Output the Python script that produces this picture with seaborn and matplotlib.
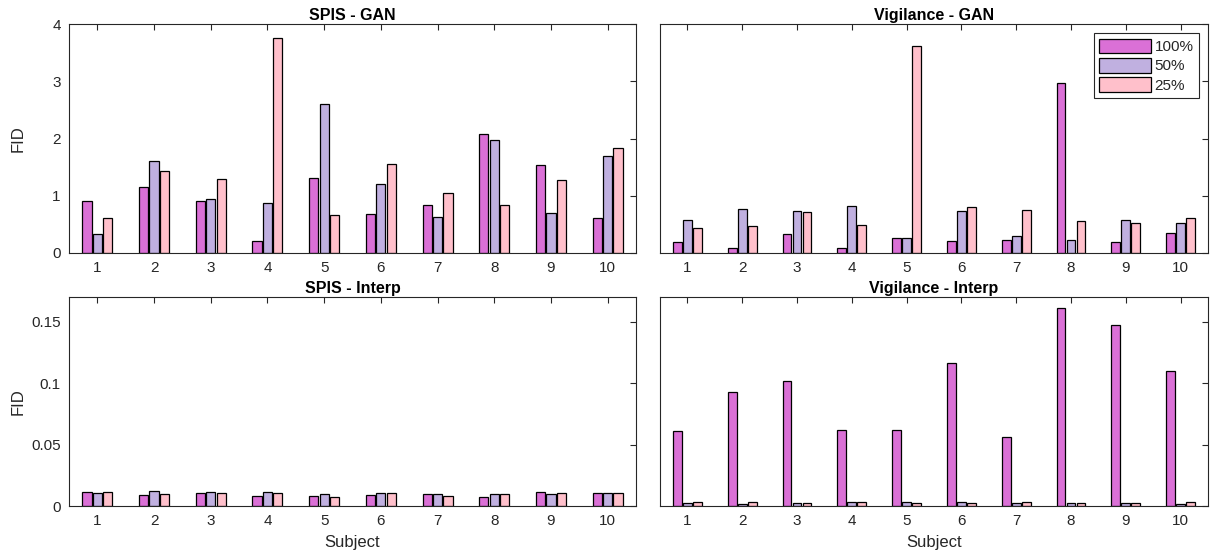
import numpy as np
import pandas as pd
import matplotlib
matplotlib.use("Agg")
import matplotlib.pyplot as plt
import seaborn as sns
from matplotlib.patches import Patch

# Data
subjects = [str(i) for i in range(1, 11)]
levels = ['100%', '50%', '25%']
colors = ['#DA70D6', '#C0B0E0', '#FFC0CB']

spis_gan_100 = [0.90, 1.16, 0.91, 0.21, 1.31, 0.68, 0.84, 2.08, 1.53, 0.61]
spis_gan_50 = [0.33, 1.61, 0.94, 0.87, 2.61, 1.20, 0.63, 1.98, 0.70, 1.69]
spis_gan_25 = [0.61, 1.43, 1.30, 3.75, 0.66, 1.55, 1.04, 0.84, 1.28, 1.83]

vig_gan_100 = [0.19, 0.09, 0.33, 0.09, 0.26, 0.21, 0.23, 2.97, 0.20, 0.35]
vig_gan_50 = [0.58, 0.76, 0.74, 0.82, 0.26, 0.73, 0.29, 0.23, 0.58, 0.52]
vig_gan_25 = [0.44, 0.47, 0.71, 0.49, 3.61, 0.80, 0.75, 0.56, 0.53, 0.61]

spis_int_100 = [0.0114, 0.0090, 0.0103, 0.0079, 0.0084, 0.0092, 0.0095, 0.0070, 0.0110, 0.0103]
spis_int_50 = [0.0106, 0.0125, 0.0111, 0.0114, 0.0100, 0.0109, 0.0095, 0.0095, 0.0100, 0.0103]
spis_int_25 = [0.0111, 0.0098, 0.0106, 0.0106, 0.0073, 0.0103, 0.0078, 0.0095, 0.0103, 0.0105]

vig_int_100 = [0.061, 0.093, 0.102, 0.062, 0.062, 0.116, 0.056, 0.161, 0.147, 0.110]
vig_int_50 = [0.0024, 0.0019, 0.0024, 0.0033, 0.0030, 0.0030, 0.0022, 0.0024, 0.0024, 0.0019]
vig_int_25 = [0.0035, 0.0030, 0.0022, 0.0033, 0.0022, 0.0022, 0.0030, 0.0024, 0.0022, 0.0030]


def to_long(a, b, c):
    rows = []
    for lvl, vals in zip(levels, [a, b, c]):
        for s, v in zip(subjects, vals):
            rows.append({'Subject': s, 'Level': lvl, 'FID': v})
    return pd.DataFrame(rows)


panels = [
    ('SPIS - GAN', to_long(spis_gan_100, spis_gan_50, spis_gan_25)),
    ('Vigilance - GAN', to_long(vig_gan_100, vig_gan_50, vig_gan_25)),
    ('SPIS - Interp', to_long(spis_int_100, spis_int_50, spis_int_25)),
    ('Vigilance - Interp', to_long(vig_int_100, vig_int_50, vig_int_25)),
]

sns.set_style('white')
plt.rcParams['font.family'] = ['Liberation Sans', 'DejaVu Sans']

fig = plt.figure(figsize=(12.17, 5.54), dpi=100)
W, H = 1217, 554
rects = [
    (69, 24, 567, 229),
    (660, 24, 548, 229),
    (69, 297, 567, 209),
    (660, 297, 548, 209),
]
spine_c = '#262626'

for i, ((title, df), (x0, y0, w, h)) in enumerate(zip(panels, rects)):
    ax = fig.add_axes([x0 / W, 1 - (y0 + h) / H, w / W, h / H])
    sns.barplot(data=df, x='Subject', y='FID', hue='Level', order=subjects,
                hue_order=levels, palette=colors, saturation=1, width=0.55,
                gap=0.12, errorbar=None, edgecolor='black', linewidth=0.9,
                legend=False, ax=ax)
    ax.set_xlim(-0.5, 9.5)
    if i < 2:
        ax.set_ylim(0, 4)
        ax.set_yticks([0, 1, 2, 3, 4])
        ax.set_yticklabels(['0', '1', '2', '3', '4'])
    else:
        ax.set_ylim(0, 0.17)
        ax.set_yticks([0, 0.05, 0.1, 0.15])
        ax.set_yticklabels(['0', '0.05', '0.1', '0.15'])
    ax.set_xticks(range(10))
    ax.set_xticklabels(subjects)
    ax.tick_params(direction='in', top=True, right=True, length=4, width=0.8,
                   color=spine_c, labelsize=11, labelcolor=spine_c, pad=6)
    if i % 2 == 1:
        ax.set_yticklabels([])
    for sp in ax.spines.values():
        sp.set_color(spine_c)
        sp.set_linewidth(0.8)
        sp.set_visible(True)
    ax.set_axisbelow(False)
    ax.set_title(title, fontsize=11.5, fontweight='bold', color='black', pad=3)
    if i % 2 == 0:
        ax.set_ylabel('FID', fontsize=12, color=spine_c)
        ax.yaxis.set_label_coords(-43 / w, 0.5)
    else:
        ax.set_ylabel('')
    if i >= 2:
        ax.set_xlabel('Subject', fontsize=12, color=spine_c, labelpad=5)
    else:
        ax.set_xlabel('')
    if i == 1:
        handles = [Patch(facecolor=c, edgecolor='black', linewidth=0.9, label=l)
                   for c, l in zip(colors, levels)]
        leg = ax.legend(handles=handles, loc='upper right', fontsize=11,
                        handlelength=3.4, handleheight=1.1, handletextpad=0.2,
                        labelspacing=0.25, borderpad=0.35, borderaxespad=0.6,
                        fancybox=False, framealpha=1)
        leg.get_frame().set_edgecolor(spine_c)
        leg.get_frame().set_linewidth(0.8)

fig.savefig('out.png', dpi=100)
